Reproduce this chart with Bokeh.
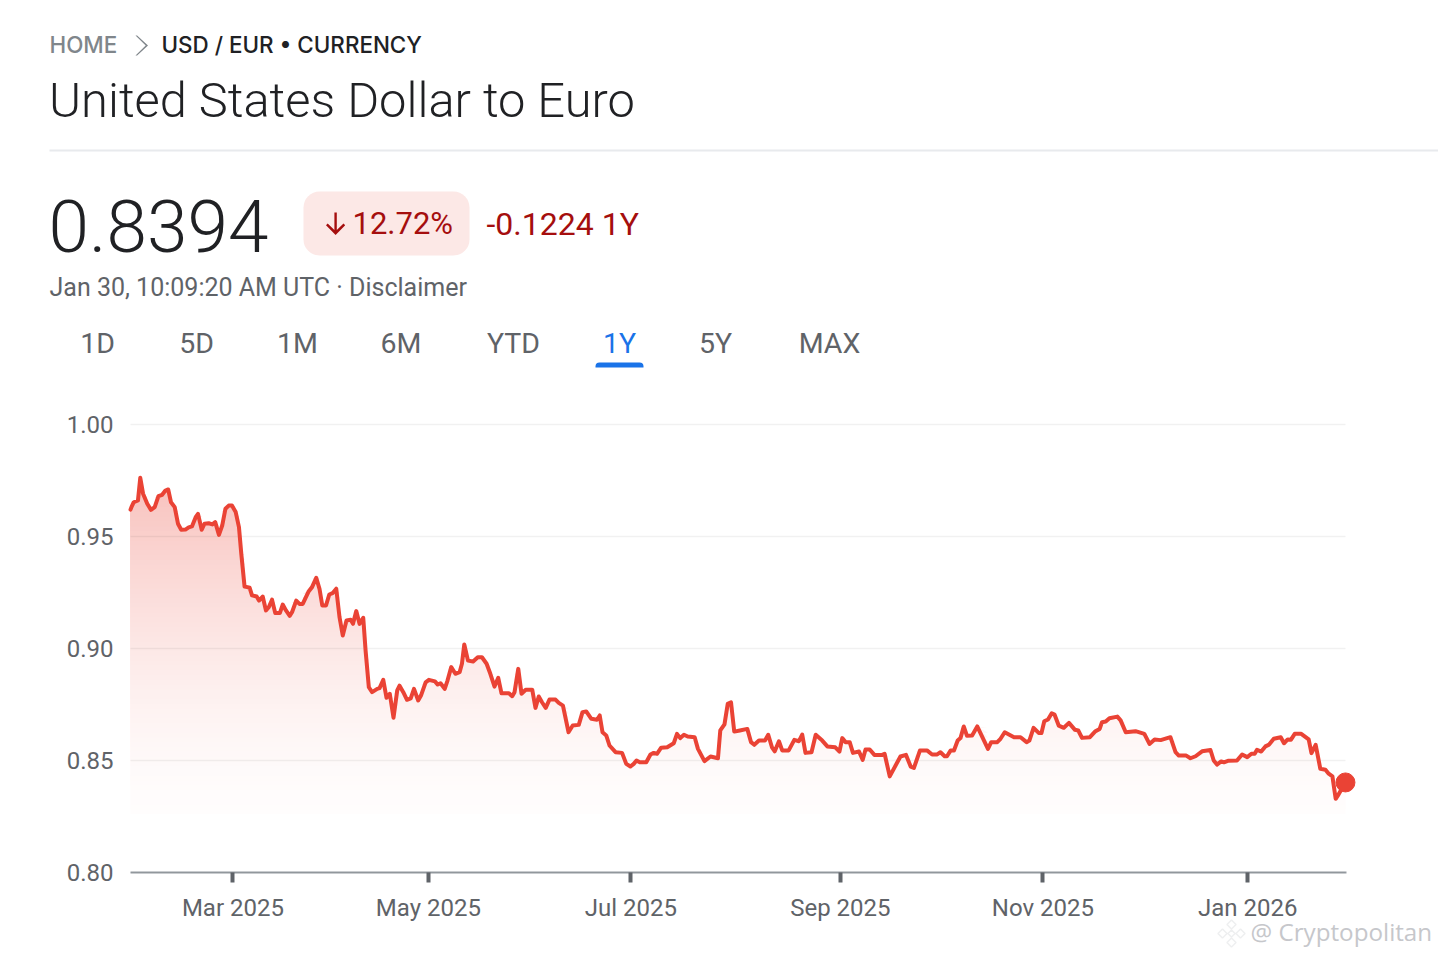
from bokeh.embed import file_html
from bokeh.models import (BoxAnnotation, ColumnDataSource, FixedTicker, Label,
                          PolyAnnotation, Range1d)
from bokeh.plotting import figure
from bokeh.resources import INLINE

# x is the trading-session number counted from 30 Jan 2025
sessions = [0, 0.2, 0.7, 1.6, 2.1, 2.7, 3.6, 4.4, 5.2, 6.0, 6.8, 7.5, 8.1, 8.7, 9.5, 10.2, 10.9, 11.8, 12.5, 13.2,
            14.0, 14.5, 15.3, 15.9, 16.8, 17.6, 18.2, 19.0, 19.7, 20.4, 21.1, 21.8, 22.6, 23.3, 23.8, 24.5, 25.1,
            25.6, 26.1, 27.1, 27.6, 28.4, 29.1, 29.7, 30.4, 31.1, 32.1, 32.7, 33.4, 34.2, 34.7, 35.6, 36.3, 37.0,
            38.3, 39.0, 39.9, 40.6, 41.2, 42.0, 42.7, 43.4, 44.2, 44.9, 45.6, 46.4, 47.3, 47.8, 48.5, 49.2, 50.0,
            50.5, 51.2, 51.9, 53.0, 53.5, 54.3, 55.0, 55.7, 56.5, 57.3, 57.8, 58.6, 59.4, 60.2, 60.9, 61.8, 62.4,
            63.4, 64.1, 65.4, 66.0, 66.6, 67.5, 68.1, 68.9, 69.8, 70.7, 71.2, 71.7, 72.5, 73.6, 74.6, 75.5, 76.5,
            77.3, 78.2, 79.0, 79.7, 81.3, 82.0, 82.5, 83.3, 84.0, 84.9, 86.3, 87.0, 87.7, 88.4, 89.2, 90.0, 91.3,
            92.0, 92.9, 94.1, 95.0, 96.3, 97.1, 97.9, 99.0, 100.2, 100.8, 101.4, 102.2, 102.9, 104.2, 105.6, 106.5,
            107.4, 108.1, 108.7, 109.4, 110.8, 111.7, 112.4, 113.1, 114.0, 115.3, 116.7, 117.4, 118.1, 118.9, 119.7,
            121.2, 121.9, 123.3, 124.6, 126.2, 126.7, 127.6, 128.3, 129.0, 129.7, 130.9, 132.5, 133.3, 134.0, 135.0,
            136.3, 137.0, 137.8, 138.4, 139.3, 140.0, 141.4, 142.6, 143.6, 144.3, 145.0, 146.3, 147.2, 148.6, 149.7,
            151.4, 152.3, 152.9, 153.6, 154.5, 155.2, 156.5, 157.3, 157.9, 158.8, 159.8, 161.5, 162.0, 163.1, 165.4,
            166.6, 167.6, 168.3, 169.6, 171.1, 172.2, 173.3, 174.0, 174.9, 175.4, 176.2, 176.9, 177.7, 178.3, 179.0,
            179.7, 180.8, 181.9, 184.2, 184.9, 186.2, 186.9, 187.8, 189.8, 191.2, 192.5, 193.1, 194.0, 195.1, 195.7,
            196.3, 197.1, 197.9, 198.5, 199.4, 200.5, 201.6, 202.9, 203.6, 204.4, 206.1, 207.2, 208.2, 208.7, 209.5,
            210.3, 212.0, 212.7, 213.8, 215.9, 217.8, 218.9, 220.0, 221.3, 223.4, 224.5, 225.2, 226.8, 227.7, 228.8,
            230.2, 232.0, 232.7, 233.4, 234.3, 234.9, 235.9, 237.7, 238.8, 239.9, 240.8, 241.5, 242.0, 242.9, 243.8,
            244.6, 245.6, 247.1, 247.8, 248.6, 249.3, 250.1, 251.5, 253.1, 253.7, 254.6, 255.6, 256.7, 257.4, 258.2,
            258.9, 259.5, 261.0]
rates = [.9620, .9631, .9653, .9661, .9762, .9691, .9646, .9619, .9631, .9680, .9686, .9705, .9710, .9653, .9631,
         .9557, .9530, .9531, .9541, .9545, .9586, .9601, .9530, .9557, .9559, .9554, .9564, .9507, .9549, .9624,
         .9638, .9638, .9609, .9542, .9423, .9277, .9274, .9271, .9237, .9232, .9214, .9232, .9170, .9184, .9218,
         .9158, .9159, .9196, .9170, .9146, .9162, .9214, .9199, .9199, .9256, .9274, .9316, .9266, .9192, .9192,
         .9241, .9247, .9267, .9140, .9058, .9125, .9128, .9110, .9167, .9110, .9137, .8991, .8827, .8805, .8820,
         .8823, .8860, .8780, .8798, .8691, .8813, .8834, .8805, .8771, .8777, .8820, .8768, .8790, .8849, .8860,
         .8853, .8839, .8845, .8820, .8857, .8917, .8887, .8894, .8932, .9018, .8946, .8942, .8961, .8961, .8932,
         .8887, .8830, .8869, .8800, .8800, .8787, .8805, .8909, .8798, .8816, .8816, .8735, .8786, .8760, .8735,
         .8772, .8772, .8757, .8745, .8626, .8656, .8659, .8716, .8719, .8686, .8682, .8701, .8626, .8612, .8567,
         .8537, .8534, .8485, .8473, .8485, .8500, .8492, .8492, .8527, .8534, .8530, .8557, .8559, .8577, .8619,
         .8600, .8615, .8607, .8604, .8552, .8497, .8518, .8510, .8634, .8661, .8753, .8760, .8629, .8634, .8641,
         .8582, .8570, .8589, .8589, .8615, .8559, .8541, .8586, .8545, .8545, .8592, .8586, .8616, .8534, .8537,
         .8615, .8589, .8563, .8559, .8540, .8600, .8582, .8582, .8534, .8540, .8503, .8549, .8549, .8525, .8525,
         .8530, .8429, .8518, .8525, .8473, .8467, .8545, .8545, .8527, .8527, .8537, .8519, .8519, .8545, .8545,
         .8589, .8600, .8652, .8610, .8612, .8652, .8552, .8582, .8582, .8597, .8626, .8604, .8604, .8582, .8589,
         .8646, .8623, .8623, .8675, .8683, .8711, .8705, .8656, .8646, .8668, .8637, .8634, .8601, .8604, .8629,
         .8641, .8671, .8674, .8689, .8696, .8679, .8626, .8631, .8619, .8574, .8594, .8591, .8604, .8537, .8522,
         .8522, .8510, .8519, .8541, .8547, .8500, .8482, .8496, .8492, .8499, .8500, .8527, .8515, .8530, .8530,
         .8548, .8540, .8563, .8571, .8597, .8604, .8577, .8594, .8593, .8619, .8619, .8594, .8533, .8570, .8463,
         .8459, .8441, .8429, .8329, .8348, .8402]
y_ticks = [0.80, 0.85, 0.90, 0.95, 1.00]
month_ticks = [22, 64, 107.5, 152.5, 196, 240]
month_labels = ["Mar 2025", "May 2025", "Jul 2025", "Sep 2025", "Nov 2025", "Jan 2026"]
range_tabs = ["1D", "5D", "1M", "6M", "YTD", "1Y", "5Y", "MAX"]
tab_centres = [97, 196, 297, 400.5, 513, 619, 715, 829]

RED = "#ea4335"
FONT = "Roboto"
W, H = 1438, 956

# The frame fills the canvas so that header texts are not clipped: the ranges are chosen
# to put session 0 at x=130 and rate 0.80 at y=872 on the page.
PX_PER_SESSION = 4.655
PX_PER_UNIT = 2240
x0 = -130 / PX_PER_SESSION
y0 = 0.80 - (H - 872) / PX_PER_UNIT
p = figure(width=W, height=H, output_backend="svg", toolbar_location=None,
           x_range=Range1d(x0, x0 + W / PX_PER_SESSION), y_range=Range1d(y0, y0 + H / PX_PER_UNIT),
           min_border_left=0, min_border_right=0, min_border_top=0, min_border_bottom=0)
p.outline_line_color = None
p.background_fill_color = "white"
p.border_fill_color = "white"
p.xgrid.visible = False
yg = p.ygrid[0]
yg.ticker = FixedTicker(ticks=y_ticks)
yg.grid_line_color = "#000000"
yg.grid_line_alpha = 0.055
yg.grid_line_width = 1.6
yg.cross_bounds = (0, 261)
yg.level = "guide"

ya = p.yaxis[0]
ya.fixed_location = 0
ya.ticker = FixedTicker(ticks=y_ticks)
ya.bounds = (0.80, 1.00)
ya.major_label_overrides = {t: f"{t:.2f}" for t in y_ticks}
ya.axis_line_color = None
ya.major_tick_line_color = None
ya.minor_tick_line_color = None
ya.major_tick_out = 0
ya.major_tick_in = 0
ya.major_label_standoff = 17
ya.major_label_text_font = FONT
ya.major_label_text_font_size = "24px"
ya.major_label_text_color = "#5f6368"

xa = p.xaxis[0]
xa.fixed_location = 0.80
xa.ticker = FixedTicker(ticks=month_ticks)
xa.bounds = (0, 261.3)
xa.major_label_overrides = dict(zip(month_ticks, month_labels))
xa.axis_line_color = "#9aa0a6"
xa.axis_line_width = 1.8
xa.major_tick_line_color = "#5f6368"
xa.major_tick_line_width = 4
xa.major_tick_in = 0
xa.major_tick_out = 10
xa.minor_tick_line_color = None
xa.major_label_standoff = 11
xa.major_label_text_font = FONT
xa.major_label_text_font_size = "24px"
xa.major_label_text_color = "#5f6368"


def tint(alpha):
    r, g, b = 0xea, 0x43, 0x35
    mix = lambda c: round(255 - alpha * (255 - c))
    return f"#{mix(r):02x}{mix(g):02x}{mix(b):02x}"


# Gradient under the line: opaque layers, each from its level up to the line, lightest first
n_layers = 70
for i in range(n_layers):
    level = 0.826 + (0.976 - 0.826) * i / n_layers
    src = ColumnDataSource(dict(x=sessions, y1=[level] * len(rates), y2=[max(r, level) for r in rates]))
    p.varea(x="x", y1="y1", y2="y2", source=src, fill_color=tint(0.012 + 0.325 * (i / n_layers) ** 1.5))

p.line(sessions, rates, line_color=RED, line_width=4, line_join="round", line_cap="round", level="annotation")
p.scatter(sessions[-1:], rates[-1:], size=19, marker="circle", fill_color=RED, line_color=RED, level="annotation")


def sy(py):
    return H - py


def text(s, x, y, size, color, align="left", font=FONT, style="normal", alpha=1.0):
    p.add_layout(Label(x=x, y=sy(y), x_units="screen", y_units="screen", text=s, text_font=font,
                       text_font_size=f"{size}px", text_color=color, text_align=align, text_baseline="middle",
                       text_font_style=style, text_alpha=alpha))


def box(l, r, t, b, color, radius=0):
    p.add_layout(BoxAnnotation(left=l, right=r, top=sy(t), bottom=sy(b), left_units="screen",
                               right_units="screen", top_units="screen", bottom_units="screen",
                               fill_color=color, fill_alpha=1, line_color=None, border_radius=radius))


def poly(points, fill, line=None, alpha=1.0, width=1.0):
    p.add_layout(PolyAnnotation(xs=[a for a, _ in points], ys=[sy(b) for _, b in points], xs_units="screen",
                                ys_units="screen", fill_color=fill, fill_alpha=alpha, line_color=line,
                                line_width=width))


# Breadcrumb and title
text("HOME", 49, 44, 22.4, "#80868b", font="Inter Medium")
poly([(135, 35), (136.6, 35), (147.5, 45), (136.6, 55), (135, 55), (145.2, 45)], "#80868b")
text("USD / EUR • CURRENCY", 161, 44, 22.4, "#202124", font="Inter Medium")
text("United States Dollar to Euro", 48.5, 100, 48.8, "#202124", font="Roboto Light")
box(49, 1438, 149, 151, "#e8eaed")

# Quote
text("0.8394", 48, 225, 73, "#202124", font="Roboto Light")
box(303, 469, 191, 255, "#fce8e6", radius=16)
poly([(333.9, 212), (336.3, 212), (336.3, 229.5), (343, 223), (344.7, 224.7), (335.1, 234.6),
      (325.5, 224.7), (327.2, 223), (333.9, 229.5)], "#a50e0e")
text("12.72%", 352, 223, 31, "#a50e0e")
text("-0.1224 1Y", 486, 223, 32, "#a50e0e")
text("Jan 30, 10:09:20 AM UTC · Disclaimer", 49, 287, 25, "#5f6368")

# Range tabs
for tab, centre in zip(range_tabs, tab_centres):
    text(tab, centre, 342.5, 28.5, "#1a73e8" if tab == "1Y" else "#5f6368", align="center")
box(595, 643, 362, 367, "#1a73e8", radius=(4, 4, 0, 0))

# Watermark
text("@ Cryptopolitan", 1250, 931, 24.2, "#c6c7cb", font="Open Sans")
for cx, cy, r in [(1231, 924, 4.5), (1222, 933, 4.5), (1240, 933, 4.5), (1231, 942, 4.5), (1231, 933, 3.5)]:
    poly([(cx, cy - r), (cx + r, cy), (cx, cy + r), (cx - r, cy)], "#ffffff", line="#c8c9cc", width=1.5)

open("out.html", "w").write(file_html(p, INLINE))
